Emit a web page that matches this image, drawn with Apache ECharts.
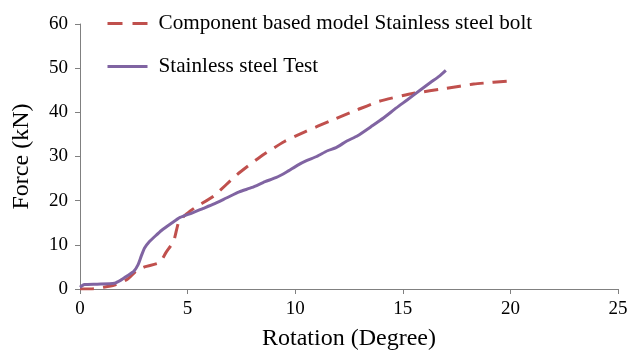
<!DOCTYPE html>
<html><head><meta charset="utf-8">
<script src="https://cdn.jsdelivr.net/npm/echarts@6/dist/echarts.min.js"></script>
<style>html,body{margin:0;padding:0;background:#fff}#c{width:633px;height:353px}</style>
</head><body><div id="c"></div>
<script>
var xTicks = [0, 5, 10, 15, 20, 25];
var yTicks = [0, 10, 20, 30, 40, 50, 60];
var modelName = 'Component based model Stainless steel bolt';
var testName = 'Stainless steel Test';
var modelX = [0, 0.5, 1.1, 1.6, 2.2, 2.6, 3.0, 3.7, 4.0, 4.35, 4.6, 5.0, 5.4, 6.2, 7.3, 8.4, 9.5, 10.5, 11.6, 12.9, 13.9, 15.5, 17.0, 18.3, 20.2];
var modelY = [0, 0, 0.4, 0.9, 2.2, 4.0, 5.0, 6.0, 8.3, 10.8, 15.3, 17.2, 18.6, 21.0, 25.9, 30.0, 33.4, 35.7, 38.0, 40.6, 42.5, 44.3, 45.4, 46.4, 47.2];
var testX = [0, 0.2, 0.8, 1.6, 1.9, 2.2, 2.5, 2.7, 2.85, 3.0, 3.2, 3.5, 3.8, 4.2, 4.65, 5.2, 5.7, 6.2, 6.8, 7.4, 8.0, 8.6, 9.1, 9.6, 10.1, 10.5, 11.0, 11.5, 11.9, 12.4, 12.9, 13.6, 14.1, 14.7, 15.2, 15.8, 16.3, 16.7, 17.0];
var testY = [0.4, 1.0, 1.1, 1.3, 2.0, 3.0, 4.0, 5.5, 7.5, 9.3, 10.6, 12.0, 13.3, 14.7, 16.2, 17.2, 18.2, 19.2, 20.6, 22.0, 23.0, 24.3, 25.2, 26.5, 28.0, 29.0, 30.0, 31.3, 32.0, 33.5, 34.7, 37.0, 38.7, 41.0, 42.8, 45.0, 46.8, 48.2, 49.5];

function pairs(xs, ys) { return xs.map(function (x, i) { return [x, ys[i]]; }); }
var font = 'Liberation Serif';
var chart = echarts.init(document.getElementById('c'));
chart.setOption({
  animation: false,
  textStyle: { fontFamily: font },
  grid: { left: 80, right: 15, top: 24, bottom: 64, containLabel: false, outerBoundsMode: 'none' },
  legend: {
    orient: 'vertical', left: 106, top: 13, itemGap: 22, padding: 0,
    itemWidth: 40, itemHeight: 14,
    itemStyle: { opacity: 0 },
    textStyle: { fontFamily: font, fontSize: 21.2, color: '#000', padding: [0, 0, 0, 6] },
    data: [
      { name: modelName, lineStyle: { type: [15, 10], width: 3 } },
      { name: testName, lineStyle: { width: 3 } }
    ]
  },
  xAxis: {
    type: 'value', min: xTicks[0], max: xTicks[xTicks.length - 1], interval: 5,
    name: 'Rotation (Degree)', nameLocation: 'middle', nameGap: 38,
    nameTextStyle: { fontFamily: font, fontSize: 24, color: '#000' },
    axisLine: { lineStyle: { color: '#808080', width: 1 } },
    axisTick: { show: true, length: 5, lineStyle: { color: '#808080' } },
    axisLabel: { fontFamily: font, fontSize: 19, color: '#000', margin: 11 },
    splitLine: { show: false }
  },
  yAxis: {
    type: 'value', min: yTicks[0], max: yTicks[yTicks.length - 1], interval: 10,
    name: 'Force (kN)', nameLocation: 'middle', nameGap: 46,
    nameTextStyle: { fontFamily: font, fontSize: 24, color: '#000' },
    axisLine: { show: true, lineStyle: { color: '#808080', width: 1 } },
    axisTick: { show: true, length: 5, lineStyle: { color: '#808080' } },
    axisLabel: { fontFamily: font, fontSize: 19, color: '#000', margin: 12 },
    splitLine: { show: false }
  },
  series: [
    { name: modelName, type: 'line', data: pairs(modelX, modelY), symbol: 'none', smooth: 0.2,
      color: '#C0504D', lineStyle: { color: '#C0504D', width: 3, type: [14, 9] }, z: 2 },
    { name: testName, type: 'line', data: pairs(testX, testY), symbol: 'none', smooth: 0.2,
      color: '#8064A2', lineStyle: { color: '#8064A2', width: 3 }, z: 3 }
  ]
});
</script></body></html>
